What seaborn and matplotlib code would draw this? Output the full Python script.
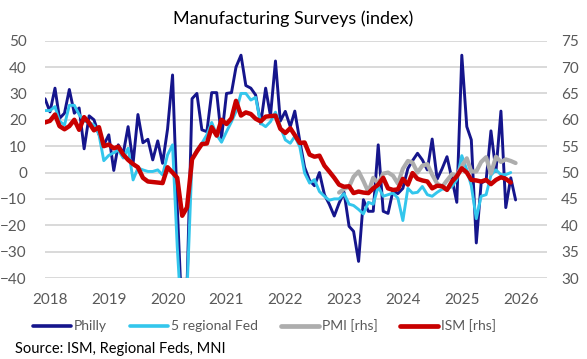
import numpy as np
import pandas as pd
import matplotlib
matplotlib.use("Agg")
import matplotlib.pyplot as plt
import matplotlib.dates as mdates
from matplotlib.lines import Line2D
import seaborn as sns

# ---------------- data (monthly) ----------------
philly_start = "2017-12-01"
philly = [28,
          23, 32, 20.5, 22.5, 31.5, 22.5, 24.5, 9, 21.5, 20, 14.5, 10.5,
          14.3, 0.8, 10.5, 7.3, 17.4, 3.5, 22, 11.3, 12.6, 4.8, 12, 3.5,
          16.5, 37, -12.7, -56.6, -43, 28, 30, 16.2, 15.5, 30.3, 30.3, 13,
          30, 30.3, 40, 44.5, 33, 32, 29.4, 18.5, 32, 21.5, 42.3, 19.5,
          23.2, 17.4, 23.3, 12, 2, -3, -5, 0, -8.4, -12, -16.5, -11.6,
          -7.5, -20.4, -22.3, -33.7, -10.3, -14.7, -14.7, 10.5, -14.7, -15.5, -6.8, -8,
          -6, 1.5, 4.5, 7.3, 4.8, 1, 12.7, -2.5, 1.5, 6, -2.5, -11.3,
          44.5, 17.4, 12.4, -26.7, -4, -3, 15.8, 0.5, 23.3, -13.3, -2, -10.4]

regional_start = "2017-12-01"
regional = [23.5,
            23.5, 25, 19.5, 18, 25.5, 25.5, 22, 19.5, 19, 18, 14.5, 4.5,
            6.5, 7.5, 8.5, 5.5, 9.2, -2.8, 1.7, 1, 0.4, 0.4, 1, -0.9,
            6.7, 10.5, -28, -60, -45, 5, 8.6, 11.1, 14.3, 19, 14.3, 11.5,
            15.5, 19.3, 23.1, 30, 30, 27.5, 28.5, 18.7, 17.4, 19.3, 22.9, 17.4,
            12.4, 11.1, 13.7, 9.8, -0.2, -4, -2.7, -7.2, -9, -10.5, -10, -10,
            -8, -12, -12.5, -14, -15.7, -11.3, -12, -5.3, -9, -8.4, -7.8, -9.7,
            -18.2, -6, -7.8, -7.5, -5.3, -8.4, -9, -7.5, -6.3, -6.3, -5.3, -2.7,
            6.4, 1, -5, -17.5, -9, -8.4, -1, 1, -0.8, -0.8, 0]

pmi_start = "2022-12-01"
pmi = [46.2,
       46.9, 47.3, 49.2, 50.2, 48.4, 46.3, 49.0, 47.9, 49.8, 50.0, 49.4, 47.9,
       50.7, 52.2, 51.9, 50.0, 51.3, 51.6, 49.6, 47.9, 47.3, 48.5, 49.7, 49.4,
       51.2, 52.7, 50.2, 50.2, 52.0, 52.9, 49.8, 53.0, 52.0, 52.5, 52.2, 51.8]

ism_start = "2017-12-01"
ism = [59.5,
       59.8, 61.0, 58.8, 58.2, 58.8, 60.0, 58.1, 60.5, 59.4, 58.0, 58.6, 55.0,
       55.3, 54.6, 54.9, 53.4, 52.4, 51.6, 51.0, 49.0, 48.3, 48.2, 48.1, 48.0,
       51.0, 50.0, 49.0, 41.8, 43.4, 52.5, 54.0, 55.4, 55.5, 58.6, 57.0, 60.0,
       59.2, 60.3, 63.6, 60.8, 61.4, 61.1, 60.2, 59.7, 60.6, 60.7, 60.8, 58.3,
       57.5, 58.4, 57.1, 55.6, 55.7, 53.4, 53.0, 53.2, 51.3, 50.2, 49.0, 47.7,
       47.3, 47.4, 46.1, 46.4, 46.2, 46.1, 47.0, 47.7, 49.0, 47.0, 46.7, 46.8,
       48.8, 47.7, 49.9, 48.8, 48.5, 48.3, 47.0, 47.5, 47.4, 46.7, 48.3, 49.3,
       50.8, 50.0, 48.6, 48.5, 48.3, 48.6, 47.8, 48.6, 49.1, 48.8, 48.1]

year_ticks = list(range(2018, 2027))
left_ticks = list(range(-40, 51, 10))
right_ticks = list(range(30, 76, 5))

labels = ["Philly", "5 regional Fed", "PMI [rhs]", "ISM [rhs]"]
colors = ["#15158C", "#33C6EC", "#ADADAD", "#C80000"]


def frame(start, values):
    return pd.DataFrame({"date": pd.date_range(start, periods=len(values), freq="MS"),
                         "value": values})


df_philly = frame(philly_start, philly)
df_reg = frame(regional_start, regional)
df_pmi = frame(pmi_start, pmi)
df_ism = frame(ism_start, ism)

# ---------------- style ----------------
sns.set_theme(style="white")
plt.rcParams["font.family"] = ["Lato", "DejaVu Sans"]

W, H = 587, 359
fig = plt.figure(figsize=(W / 100, H / 100), dpi=100)
ax = fig.add_axes([45 / W, 1 - 278 / H, (547 - 45) / W, (278 - 40.7) / H])
ax2 = ax.twinx()

sns.lineplot(data=df_philly, x="date", y="value", ax=ax, color=colors[0], lw=2.1)
sns.lineplot(data=df_reg, x="date", y="value", ax=ax, color=colors[1], lw=2.1)
sns.lineplot(data=df_pmi, x="date", y="value", ax=ax2, color=colors[2], lw=3.0)
sns.lineplot(data=df_ism, x="date", y="value", ax=ax2, color=colors[3], lw=3.2)

ax.set_ylim(-40, 50)
ax2.set_ylim(30, 75)
ax.set_yticks(left_ticks)
ax2.set_yticks(right_ticks)
ax.set_xlim(pd.Timestamp("2017-12-01"), pd.Timestamp("2026-06-14"))
ax.set_xticks([pd.Timestamp(f"{y}-01-01") for y in year_ticks])
ax.xaxis.set_major_formatter(mdates.DateFormatter("%Y"))

ax.yaxis.grid(True, color="#D9D9D9", lw=1.4)
ax.xaxis.grid(False)
ax2.grid(False)
ax.set_axisbelow(True)
for a in (ax, ax2):
    for s in a.spines.values():
        s.set_visible(False)
    a.set_xlabel("")
    a.set_ylabel("")
    a.tick_params(length=0, labelsize=11, labelcolor="#595959")
ax.tick_params(axis="y", pad=13)
ax.tick_params(axis="x", pad=11)
ax2.tick_params(axis="y", pad=10)

fig.text(0.5, 1 - 19 / H, "Manufacturing Surveys (index)", ha="center", va="center",
         fontsize=13, color="#000000")

handles = [Line2D([0], [0], color=c, lw=lw) for c, lw in zip(colors, [2.6, 2.6, 3.4, 3.4])]
fig.legend(handles, labels, loc="center", bbox_to_anchor=(264.5 / W, 1 - 326 / H), ncol=4,
           frameon=False, fontsize=10, handlelength=2.75, handletextpad=0.2,
           columnspacing=1.65, labelcolor="#595959")

fig.text(15 / W, 1 - 349 / H, "Source: ISM, Regional Feds, MNI", ha="left", va="center",
         fontsize=10.5, color="#000000")

fig.savefig("out.png", dpi=100)
